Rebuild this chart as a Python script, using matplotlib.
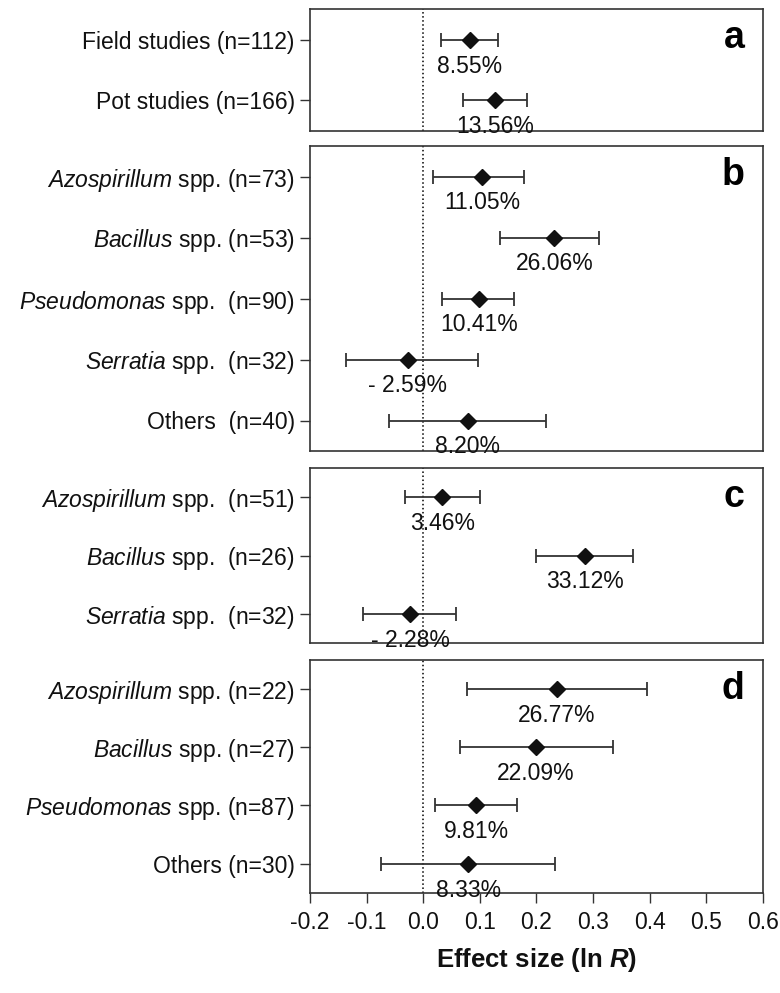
import numpy as np
import matplotlib.pyplot as plt

plt.rcParams['font.family'] = ['Liberation Sans', 'DejaVu Sans']
plt.rcParams['mathtext.fontset'] = 'custom'
plt.rcParams['mathtext.rm'] = 'Liberation Sans'
plt.rcParams['mathtext.it'] = 'Liberation Sans:italic'
plt.rcParams['mathtext.bf'] = 'Liberation Sans:bold'
plt.rcParams['mathtext.bfit'] = 'Liberation Sans:italic:bold'

# panel a
labels_a = ["Field studies (n=112)", "Pot studies (n=166)"]
mean_a = [0.082, 0.127]
low_a = [0.031, 0.071]
high_a = [0.133, 0.183]
pct_a = ["8.55%", "13.56%"]

# panel b
labels_b = [r"$\mathit{Azospirillum}$ spp. (n=73)",
            r"$\mathit{Bacillus}$ spp. (n=53)",
            r"$\mathit{Pseudomonas}$ spp.  (n=90)",
            r"$\mathit{Serratia}$ spp.  (n=32)",
            "Others  (n=40)"]
mean_b = [0.104, 0.232, 0.099, -0.027, 0.079]
low_b = [0.018, 0.136, 0.034, -0.136, -0.061]
high_b = [0.178, 0.311, 0.160, 0.097, 0.217]
pct_b = ["11.05%", "26.06%", "10.41%", "- 2.59%", "8.20%"]

# panel c
labels_c = [r"$\mathit{Azospirillum}$ spp.  (n=51)",
            r"$\mathit{Bacillus}$ spp.  (n=26)",
            r"$\mathit{Serratia}$ spp.  (n=32)"]
mean_c = [0.034, 0.286, -0.023]
low_c = [-0.033, 0.200, -0.106]
high_c = [0.100, 0.371, 0.058]
pct_c = ["3.46%", "33.12%", "- 2.28%"]

# panel d
labels_d = [r"$\mathit{Azospirillum}$ spp. (n=22)",
            r"$\mathit{Bacillus}$ spp. (n=27)",
            r"$\mathit{Pseudomonas}$ spp. (n=87)",
            "Others (n=30)"]
mean_d = [0.236, 0.199, 0.094, 0.080]
low_d = [0.078, 0.065, 0.021, -0.074]
high_d = [0.396, 0.335, 0.166, 0.233]
pct_d = ["26.77%", "22.09%", "9.81%", "8.33%"]

panels = [
    ("a", labels_a, mean_a, low_a, high_a, pct_a, (9.3, 130.7)),
    ("b", labels_b, mean_b, low_b, high_b, pct_b, (146.0, 451.0)),
    ("c", labels_c, mean_c, low_c, high_c, pct_c, (468.3, 642.7)),
    ("d", labels_d, mean_d, low_d, high_d, pct_d, (660.0, 892.7)),
]

W, H = 780, 993
fig = plt.figure(figsize=(7.8, 9.93), dpi=100)
txt = '#111111'
ln = '#333333'
fs = 16.5

for i, (letter, labs, m, lo, hi, pct, (top, bot)) in enumerate(panels):
    ax = fig.add_axes([310 / W, 1 - bot / H, (762.7 - 310) / W, (bot - top) / H])
    n = len(labs)
    y = np.arange(1, n + 1)
    m = np.array(m)
    err = np.array([m - np.array(lo), np.array(hi) - m])
    ax.errorbar(m, y, xerr=err, fmt='D', color=ln, ecolor=ln, mfc='#111111',
                mec='#111111', ms=8.5, elinewidth=1.3, capsize=5, capthick=1.3, zorder=3)
    ax.axvline(0, color='black', linestyle=':', linewidth=1.1, zorder=1)
    for xi, yi, p in zip(m, y, pct):
        ax.annotate(p, xy=(xi, yi), xytext=(0, -19), textcoords='offset points',
                    ha='center', va='center', fontsize=fs, color=txt)
    ax.set_ylim(n + 0.5, 0.5)
    ax.set_xlim(-0.2, 0.6)
    ax.set_yticks(y)
    ax.set_yticklabels(labs, fontsize=fs, color=txt)
    ax.tick_params(axis='y', length=7, width=1, color=ln, pad=4)
    ax.annotate(letter, xy=(1, 1), xycoords='axes fraction', xytext=(-13, -28),
                textcoords='offset points', ha='right', va='baseline',
                fontsize=27, fontweight='bold', color='black')
    for s in ax.spines.values():
        s.set_color(ln)
        s.set_linewidth(1.2)
    if i < 3:
        ax.set_xticks([])
    else:
        ax.set_xticks(np.arange(-0.2, 0.61, 0.1))
        ax.set_xticklabels(["%.1f" % v for v in np.arange(-0.2, 0.61, 0.1)],
                           fontsize=fs, color=txt)
        ax.tick_params(axis='x', length=7, width=1, color=ln, pad=6)
        ax.set_xlabel(r"Effect size (ln $\mathbfit{R}$)", fontsize=18.5,
                      fontweight='bold', color=txt, labelpad=9)

fig.savefig("out.png", dpi=100)
